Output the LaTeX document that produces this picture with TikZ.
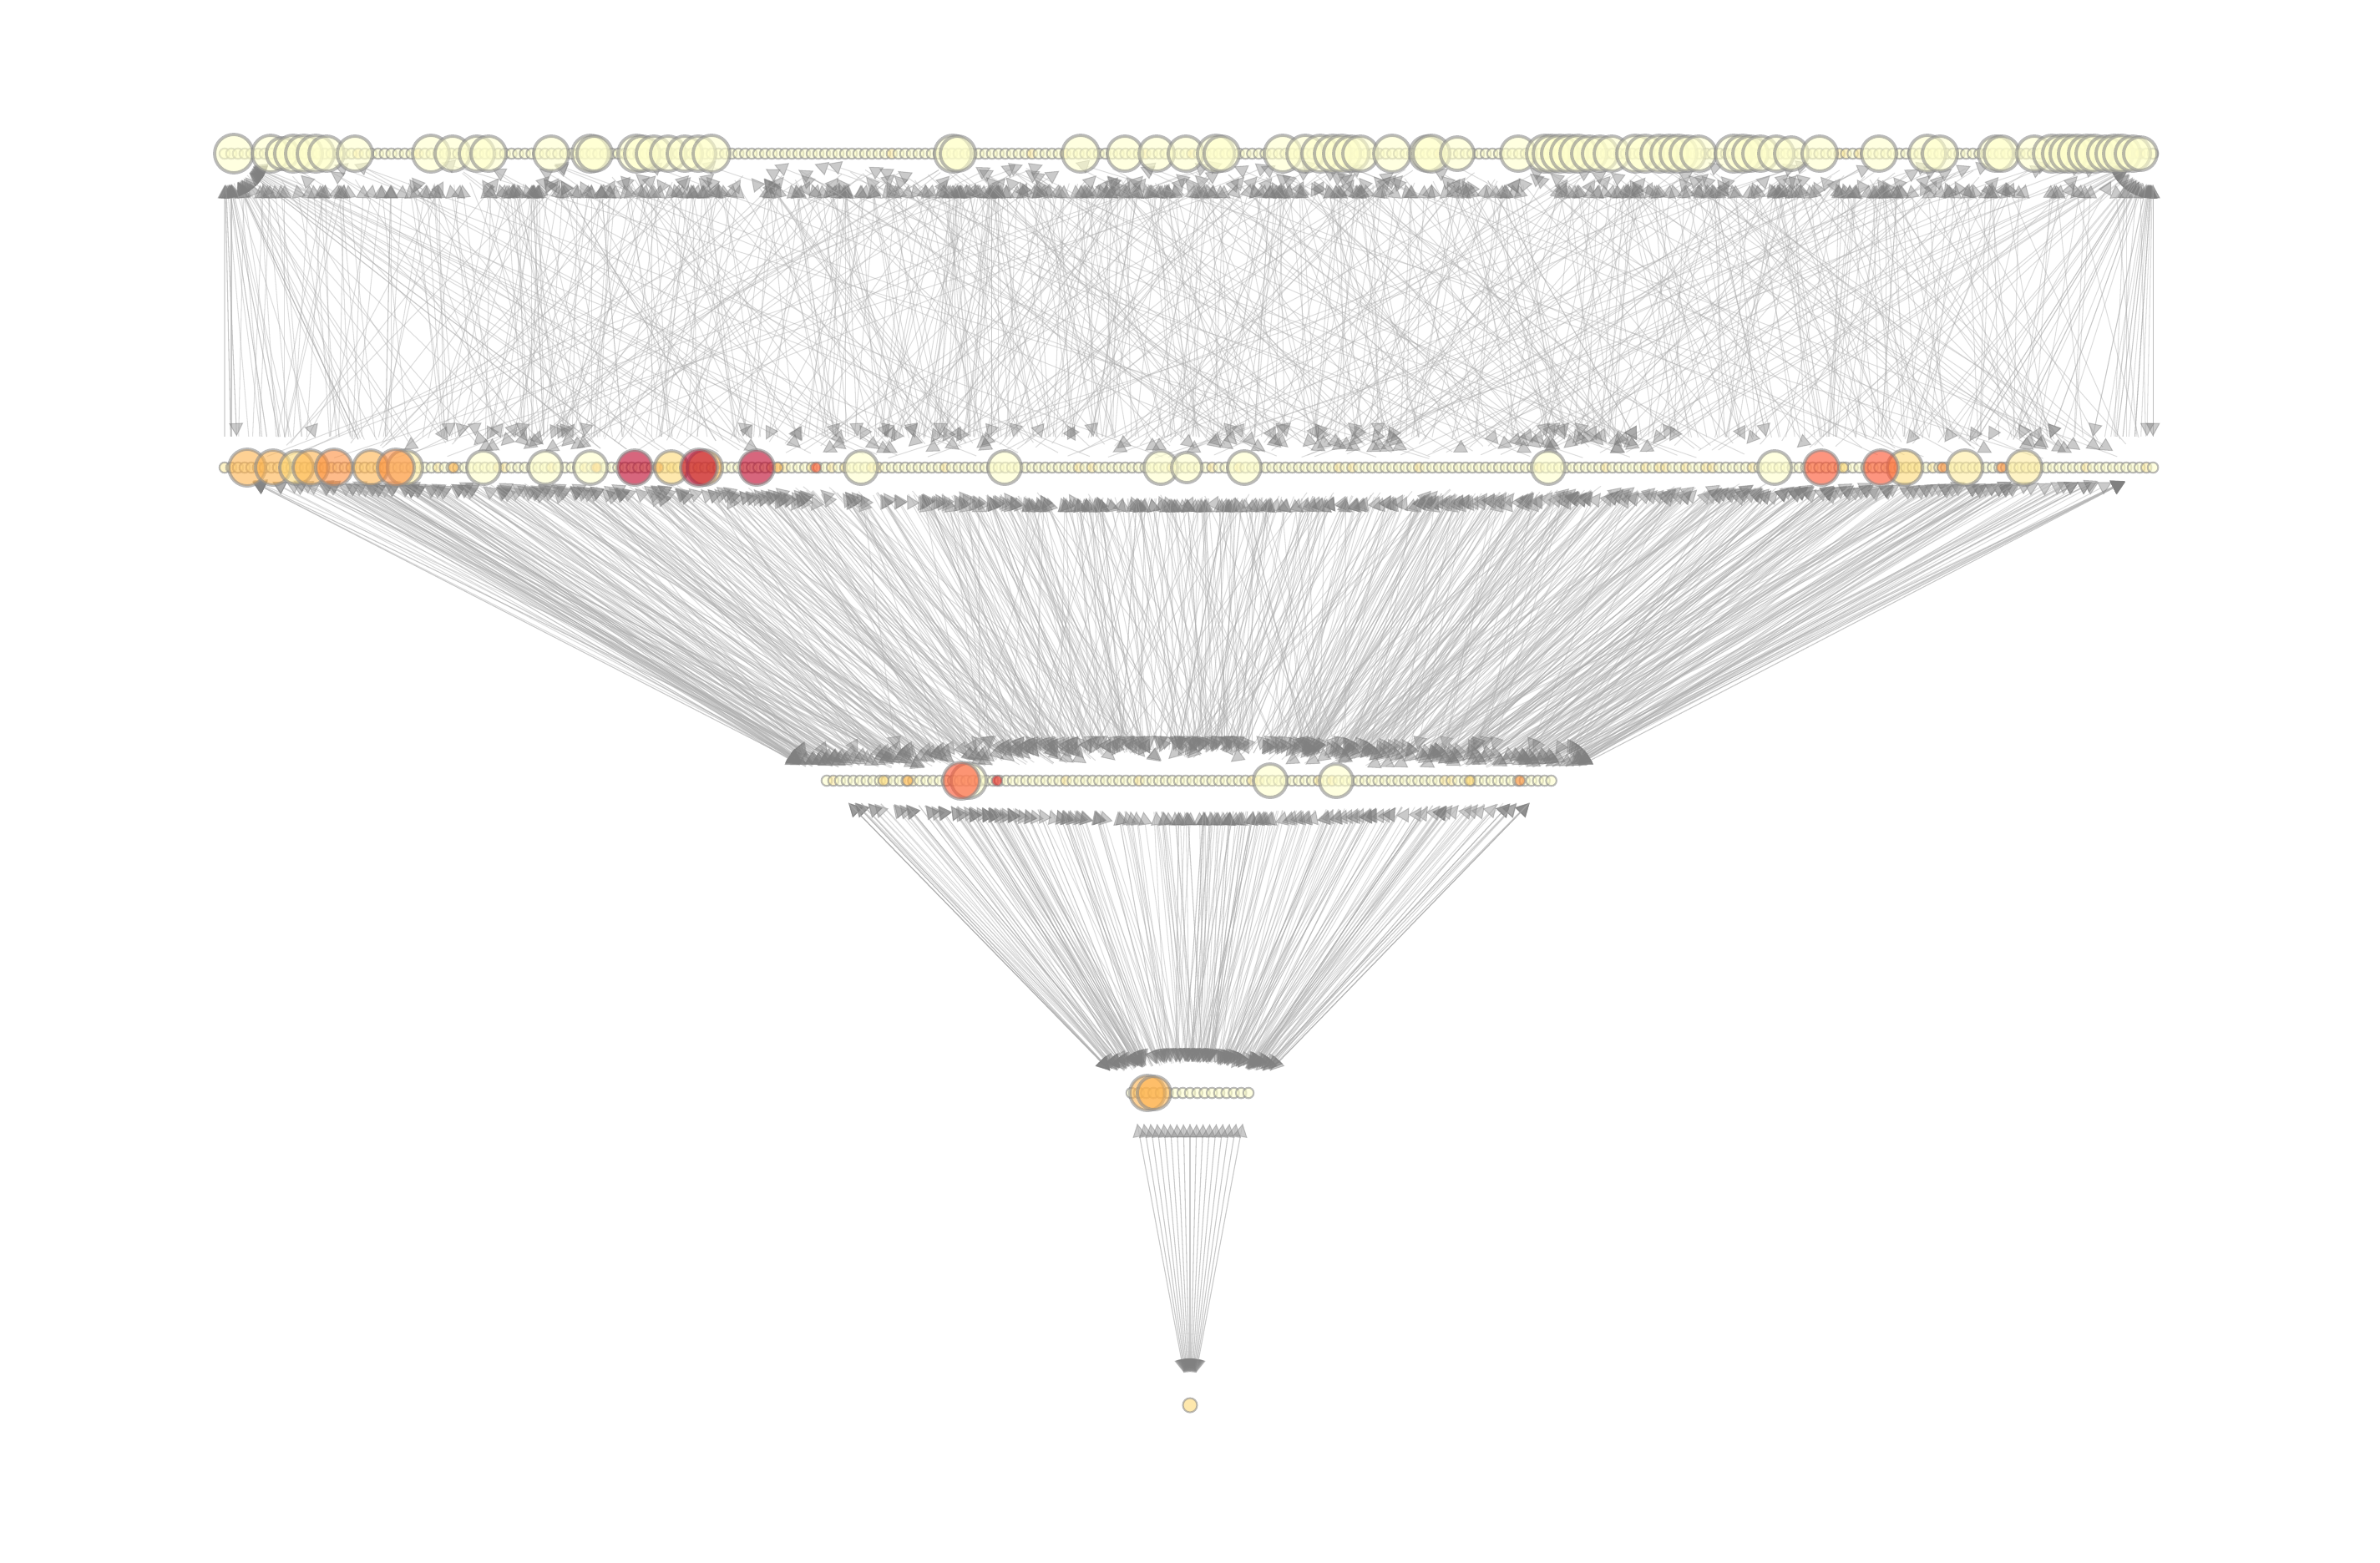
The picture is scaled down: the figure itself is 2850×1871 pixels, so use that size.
\documentclass[tikz,border=0pt]{standalone}
\usetikzlibrary{arrows.meta}

% YlOrRd palette
\definecolor{ylA}{HTML}{FFFFCC}
\definecolor{ylB}{HTML}{FFEDA0}
\definecolor{ylC}{HTML}{FED976}
\definecolor{ylD}{HTML}{FEB24C}
\definecolor{ylE}{HTML}{FD8D3C}
\definecolor{ylF}{HTML}{FC4E2A}
\definecolor{ylG}{HTML}{E31A1C}
\definecolor{ylH}{HTML}{BD0026}

\pgfdeclarelayer{links}
\pgfsetlayers{links,main}

\begin{document}
\begin{tikzpicture}[x=0.01cm, y=-0.01cm,
        dot/.style={circle, inner sep=0pt, minimum size=1.25mm, draw=black!45,
                    line width=0.6pt, draw opacity=0.6, fill=ylA, fill opacity=0.6},
        hub/.style={dot, minimum size=#1, line width=1.1pt},
        link/.style={draw=black!32, line width=0.3pt, opacity=0.42,
                     shorten <=3mm, shorten >=3mm,
                     -{Triangle[length=1.6mm, width=1.7mm, color=black!50]}}
    ]
    \useasboundingbox (0,0) rectangle (2850,1871);
    \pgfmathsetseed{1871}

    % Row 0: chain of small nodes
    \foreach \i in {1,...,290}{
        \pgfmathtruncatemacro{\tint}{rnd<0.1}
        \ifnum\tint=1 \def\fc{ylB}\else\def\fc{ylA}\fi
        \node[dot, fill=\fc] (n0-\i) at ({269+(\i-1)*7.99},184) {};
    }
    % Row 0: large nodes
    \foreach \x/\d [count=\c] in {280/4.6, 324/4.4, 338/3.8, 351/4.4, 364/4.4, 378/4.4, 391/4.2,
            425/4.2, 516/4.4, 542/4.2, 571/4.2, 585/4.2, 660/4.2, 707/4.4, 712/4.2,
            762/4.4, 769/4.2, 783/4.2, 800/4.2, 820/4.2, 836/4.2, 852/4.4, 1141/4.4,
            1147/4.2, 1294/4.4, 1347/4.2, 1385/4.2, 1420/4.2, 1456/4.4, 1463/4.2,
            1536/4.4, 1563/4.4, 1581/4.4, 1596/4.4, 1607/4.4, 1618/4.2, 1629/4.2,
            1667/4.4, 1709/4.2, 1714/4.4, 1745/4.0, 1818/4.2, 1850/4.4, 1858/4.4,
            1868/4.4, 1879/4.4, 1890/4.4, 1903/4.2, 1916/4.2, 1930/4.2, 1958/4.4,
            1970/4.4, 1987/4.4, 1999/4.4, 2010/4.4, 2021/4.2, 2034/4.2, 2076/4.4,
            2087/4.4, 2096/4.2, 2108/4.2, 2127/4.2, 2145/4.0, 2179/4.2, 2250/4.2,
            2308/4.4, 2323/4.2, 2390/4.2, 2397/4.2, 2436/4.2, 2457/4.4, 2468/4.4,
            2477/4.4, 2487/4.4, 2499/4.4, 2508/4.4, 2521/4.2, 2532/4.4, 2541/4.4,
            2554/4.2, 2563/4.0}
        \node[hub=\d mm] (h0-\c) at (\x,184) {};

    % Row 1: chain of small nodes
    \foreach \i in {1,...,290}{
        \pgfmathtruncatemacro{\tint}{rnd<0.12}
        \ifnum\tint=1 \def\fc{ylB}\else\def\fc{ylA}\fi
        \node[dot, fill=\fc] (n1-\i) at ({269+(\i-1)*7.99},560) {};
    }
    \foreach \x/\fc [count=\c] in {543/ylD, 714/ylD, 788/ylE, 931/ylD, 977/ylF,
            2207/ylC, 2326/ylE, 2397/ylE}
        \node[dot, fill=\fc] (c1-\c) at (\x,560) {};
    % Row 1: large nodes
    \foreach \x/\d/\fc [count=\c] in {296/4.4/ylD, 327/4.2/ylD, 355/4.0/ylC, 372/4.2/ylD,
            400/4.4/ylE, 444/4.2/ylD, 485/4.2/ylB, 474/4.4/ylE, 579/4.0/ylA,
            653/4.0/ylA, 707/4.0/ylA, 760/4.2/ylH, 804/4.0/ylC, 844/4.2/ylD,
            837/4.4/ylH, 906/4.2/ylH, 1031/4.0/ylA, 1203/4.0/ylA, 1390/4.0/ylA,
            1421/3.6/ylA, 1490/4.0/ylA, 1854/4.0/ylA, 2125/4.0/ylA, 2181/4.2/ylF,
            2281/4.2/ylC, 2252/4.2/ylF, 2353/4.2/ylB, 2424/4.2/ylB}
        \node[hub=\d mm, fill=\fc] (h1-\c) at (\x,560) {};

    % Row 2
    \foreach \i in {1,...,110}{
        \pgfmathtruncatemacro{\tint}{rnd<0.12}
        \ifnum\tint=1 \def\fc{ylB}\else\def\fc{ylA}\fi
        \node[dot, fill=\fc] (n2-\i) at ({990+(\i-1)*7.96},935) {};
    }
    \foreach \x/\fc [count=\c] in {1058/ylC, 1087/ylD, 1194/ylG, 1760/ylC, 1820/ylE}
        \node[dot, fill=\fc] (c2-\c) at (\x,935) {};
    \foreach \x/\d/\fc [count=\c] in {1160/4.2/ylA, 1151/4.4/ylF, 1521/4.0/ylA, 1600/4.0/ylA}
        \node[hub=\d mm, fill=\fc] (h2-\c) at (\x,935) {};

    % Row 3
    \foreach \i in {1,...,17}
        \node[dot] (n3-\i) at ({1355+(\i-1)*8.75},1309) {};
    \foreach \x/\d/\fc [count=\c] in {1374/4.2/ylD, 1382/4.0/ylD}
        \node[hub=\d mm, fill=\fc] (h3-\c) at (\x,1309) {};

    % Row 4: sink
    \node[dot, minimum size=1.7mm, fill=ylC] (n4) at (1425,1683) {};

    \begin{pgfonlayer}{links}
        % row 1 -> row 0
        \foreach \k in {1,...,700}{
            \pgfmathtruncatemacro{\a}{random(1,290)}
            \pgfmathsetmacro{\w}{rnd<0.5 ? 12 : (rnd<0.5 ? 50 : 160)}
            \pgfmathtruncatemacro{\b}{max(1,min(290,\a+\w*rand))}
            \draw[link] (n1-\a) -- (n0-\b);
        }
        % row 0 -> row 1, clustered targets
        \foreach \s/\n in {35/24, 90/20, 154/30, 195/36, 270/14, 1/50}{
            \foreach \k in {1,...,\n}{
                \pgfmathtruncatemacro{\b}{\s==1 ? random(1,290) : \s+random(0,20)}
                \pgfmathtruncatemacro{\a}{max(1,min(290,\b+90*rand))}
                \draw[link] (n0-\a) -- (n1-\b);
            }
        }
        % row 2 -> row 1
        \foreach \k in {1,...,600}{
            \pgfmathtruncatemacro{\a}{random(1,110)}
            \pgfmathsetmacro{\w}{rnd<0.6 ? 15 : 50}
            \pgfmathtruncatemacro{\b}{max(1,min(290,6+(\a-1)/109*279+\w*rand))}
            \draw[link] (n2-\a) -- (n1-\b);
        }
        % row 1 -> row 2
        \foreach \k in {1,...,420}{
            \pgfmathtruncatemacro{\a}{random(6,285)}
            \pgfmathsetmacro{\w}{rnd<0.6 ? 8 : 25}
            \pgfmathtruncatemacro{\b}{max(1,min(110,1+(\a-6)/279*109+\w*rand))}
            \draw[link] (n1-\a) -- (n2-\b);
        }
        % row 3 -> row 2
        \foreach \k in {1,...,170}{
            \pgfmathtruncatemacro{\a}{random(1,17)}
            \pgfmathtruncatemacro{\b}{max(1,min(110,4+(\a-1)/16*100+15*rand))}
            \draw[link] (n3-\a) -- (n2-\b);
        }
        % row 2 -> row 3
        \foreach \k in {1,...,130}{
            \pgfmathtruncatemacro{\a}{random(1,110)}
            \pgfmathtruncatemacro{\b}{max(1,min(17,1+(\a-1)/109*16+2*rand))}
            \draw[link] (n2-\a) -- (n3-\b);
        }
        % row 3 <-> sink
        \foreach \i in {1,...,17}{
            \draw[link] (n4) -- (n3-\i);
            \draw[link] (n3-\i) -- (n4);
        }
    \end{pgfonlayer}
\end{tikzpicture}
\end{document}
